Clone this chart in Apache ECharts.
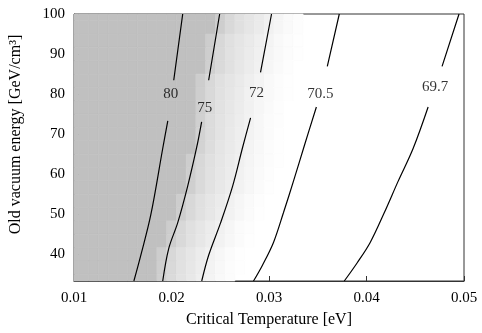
<!DOCTYPE html>
<html>
<head>
<meta charset="utf-8">
<script src="https://cdn.jsdelivr.net/npm/echarts@6/dist/echarts.min.js"></script>
<style>
  html, body { margin: 0; padding: 0; background: #fff; }
  #chart { width: 482px; height: 333px; }
</style>
</head>
<body>
<div id="chart"></div>
<script>
// heatmap cell centres
const colX = [0.010, 0.011, 0.012, 0.013, 0.014, 0.015, 0.016, 0.017, 0.018, 0.019,
              0.020, 0.021, 0.022, 0.023, 0.024, 0.025, 0.026, 0.027, 0.028, 0.029,
              0.030, 0.031, 0.032, 0.033, 0.034, 0.035, 0.036, 0.037, 0.038, 0.039,
              0.040, 0.041, 0.042, 0.043, 0.044, 0.045, 0.046, 0.047, 0.048, 0.049, 0.050];
const rowY = [100, 96.67, 93.33, 90, 86.67, 83.33, 80, 76.67, 73.33, 70, 66.67,
              63.33, 60, 56.67, 53.33, 50, 46.67, 43.33, 40, 36.67, 33.33];

// shading level (1 = full grey, 0 = white) for columns 0.017 .. 0.034, top row first
const firstCol = 7;
const levelRows = [
  [1, 1, 1, 1, 1, 1, 1, 1, .8, .62, .5, .42, .33, .24, .16, .08, .04, 0],
  [1, 1, 1, 1, 1, 1, 1, 1, .78, .6, .5, .4, .32, .23, .15, .08, .03, 0],
  [1, 1, 1, 1, 1, 1, 1, .8, .62, .5, .42, .33, .25, .17, .1, .05, .02, 0],
  [1, 1, 1, 1, 1, 1, 1, .78, .6, .48, .4, .32, .24, .16, .09, .04, .01, 0],
  [1, 1, 1, 1, 1, 1, 1, .75, .58, .47, .38, .3, .22, .14, .08, .03, 0, 0],
  [1, 1, 1, 1, 1, 1, .8, .62, .5, .41, .33, .25, .17, .1, .05, .02, 0, 0],
  [1, 1, 1, 1, 1, 1, .78, .6, .48, .4, .31, .23, .15, .09, .04, .01, 0, 0],
  [1, 1, 1, 1, 1, 1, .76, .58, .46, .38, .3, .22, .14, .08, .03, 0, 0, 0],
  [1, 1, 1, 1, 1, 1, .74, .56, .45, .36, .28, .2, .13, .07, .03, 0, 0, 0],
  [1, 1, 1, 1, 1, 1, .72, .55, .44, .35, .27, .19, .12, .06, .02, 0, 0, 0],
  [1, 1, 1, 1, 1, 1, .7, .54, .42, .34, .26, .18, .11, .05, .02, 0, 0, 0],
  [1, 1, 1, 1, 1, .8, .62, .5, .4, .32, .24, .16, .09, .04, .01, 0, 0, 0],
  [1, 1, 1, 1, 1, .78, .6, .48, .38, .3, .22, .14, .08, .03, 0, 0, 0, 0],
  [1, 1, 1, 1, 1, .76, .58, .46, .36, .28, .2, .12, .06, .02, 0, 0, 0, 0],
  [1, 1, 1, 1, .8, .62, .5, .4, .31, .23, .15, .08, .03, 0, 0, 0, 0, 0],
  [1, 1, 1, 1, .78, .6, .48, .38, .29, .21, .13, .07, .02, 0, 0, 0, 0, 0],
  [1, 1, 1, .8, .62, .5, .4, .3, .22, .14, .07, .03, 0, 0, 0, 0, 0, 0],
  [1, 1, 1, .78, .6, .48, .38, .28, .2, .12, .06, .02, 0, 0, 0, 0, 0, 0],
  [1, 1, .8, .62, .5, .4, .3, .21, .13, .07, .02, 0, 0, 0, 0, 0, 0, 0],
  [1, 1, .78, .6, .48, .38, .28, .19, .11, .05, .01, 0, 0, 0, 0, 0, 0, 0],
  [1, 1, .76, .58, .46, .36, .26, .18, .1, .04, 0, 0, 0, 0, 0, 0, 0, 0]
];

// contour lines, upper piece and lower piece (gap for the label)
const contour80 = [[0.02115, 100], [0.02023, 83.46], null,
  [0.01962, 73.33], [0.0191, 66.42], [0.01788, 49.88], [0.01685, 39.75], [0.01614, 33.33]];
const contour75 = [[0.02494, 100], [0.02381, 83.46], null,
  [0.02309, 73.09], [0.02258, 66.67], [0.02166, 57.04], [0.02064, 47.9], [0.01972, 41.48], [0.0191, 33.33]];
const contour72 = [[0.03026, 100], [0.02913, 85.43], null,
  [0.02811, 74.07], [0.02729, 66.67], [0.02627, 57.04], [0.02504, 47.9], [0.02381, 39.75], [0.0231, 33.33]];
const contour705 = [[0.03721, 100], [0.03598, 86.91], null,
  [0.03486, 76.79], [0.03363, 67.16], [0.03251, 58.27], [0.03148, 50.37], [0.03046, 42.96], [0.02933, 37.28], [0.02841, 33.33]];
const contour697 = [[0.04949, 100], [0.04775, 86.91], null,
  [0.04632, 76.79], [0.04478, 66.42], [0.04325, 58.27], [0.04182, 50.37], [0.04038, 42.96], [0.03905, 37.9], [0.03772, 33.33]];

const contourLabels = ['80', '75', '72', '70.5', '69.7'];
const labelPos = [[0.01992, 80.0], [0.0234, 76.5], [0.02872, 80.2], [0.03527, 80.0], [0.04703, 81.7]];

const xTicks = [0.01, 0.02, 0.03, 0.04, 0.05];
const yTicks = [40, 50, 60, 70, 80, 90, 100];

const FONT = '"Liberation Serif", "DejaVu Serif", serif';

// build cells
const cells = [];
rowY.forEach((y, r) => {
  colX.forEach((x, c) => {
    let v;
    if (c < firstCol) v = 1;
    else if (c < firstCol + levelRows[r].length) v = levelRows[r][c - firstCol];
    else v = 0;
    if (v > 0) cells.push([x, y, v]);
  });
});

const chart = echarts.init(document.getElementById('chart'), null, { renderer: 'canvas' });

function contourSeries(data) {
  return {
    type: 'line',
    data: data.map(p => p === null ? '-' : p),
    connectNulls: false,
    showSymbol: false,
    smooth: 0.35,
    silent: true,
    lineStyle: { color: '#000', width: 1.2 },
    z: 3
  };
}

const option = {
  animation: false,
  grid: { left: 73, right: 18, top: 14, bottom: 49, show: true, borderColor: '#333', borderWidth: 1, backgroundColor: 'transparent' },
  xAxis: {
    type: 'value',
    min: 0.01,
    max: 0.05,
    interval: 0.01,
    name: 'Critical Temperature [eV]',
    nameLocation: 'middle',
    nameGap: 31,
    nameTextStyle: { fontFamily: FONT, fontSize: 16, color: '#000' },
    axisLine: { show: true, lineStyle: { color: '#333', width: 1 } },
    axisTick: { show: true, inside: true, length: 5, lineStyle: { color: '#333' } },
    axisLabel: {
      fontFamily: FONT, fontSize: 15, color: '#000', margin: 10,
      customValues: xTicks,
      formatter: v => v.toFixed(2)
    },
    splitLine: { show: false }
  },
  yAxis: {
    type: 'value',
    min: 100 / 3,
    max: 100,
    name: 'Old vacuum energy [GeV/cm³]',
    nameLocation: 'middle',
    nameRotate: 90,
    nameGap: 50,
    nameTextStyle: { fontFamily: FONT, fontSize: 16, color: '#000', padding: [0, 0, 0, 26] },
    axisLine: { show: true, lineStyle: { color: '#333', width: 1 } },
    axisTick: { show: true, inside: true, length: 5, customValues: yTicks, lineStyle: { color: '#333' } },
    axisLabel: { fontFamily: FONT, fontSize: 15, color: '#000', margin: 9, customValues: yTicks },
    splitLine: { show: false }
  },
  series: [
    {
      type: 'custom',
      silent: true,
      z: 1,
      data: cells,
      renderItem: function (params, api) {
        const x = api.value(0), y = api.value(1), v = api.value(2);
        const p1 = api.coord([x - 0.0005, y + 5 / 3]);
        const p2 = api.coord([x + 0.0005, y - 5 / 3]);
        const cs = params.coordSys;
        const rect = echarts.graphic.clipRectByRect(
          { x: p1[0], y: p1[1], width: p2[0] - p1[0], height: p2[1] - p1[1] },
          { x: cs.x, y: cs.y, width: cs.width, height: cs.height }
        );
        if (!rect) return;
        const g = Math.round(255 - 63 * v);
        const col = 'rgb(' + g + ',' + g + ',' + g + ')';
        return { type: 'rect', shape: rect, style: { fill: col, stroke: col, lineWidth: 0.6 } };
      }
    },
    contourSeries(contour80),
    contourSeries(contour75),
    contourSeries(contour72),
    contourSeries(contour705),
    contourSeries(contour697),
    {
      type: 'scatter',
      silent: true,
      z: 4,
      symbolSize: 1,
      itemStyle: { color: 'rgba(0,0,0,0)' },
      data: contourLabels.map((t, i) => ({ name: t, value: labelPos[i] })),
      label: {
        show: true,
        position: 'inside',
        formatter: '{b}',
        fontFamily: FONT,
        fontSize: 15,
        color: '#000'
      }
    }
  ]
};

chart.setOption(option);
</script>
</body>
</html>
